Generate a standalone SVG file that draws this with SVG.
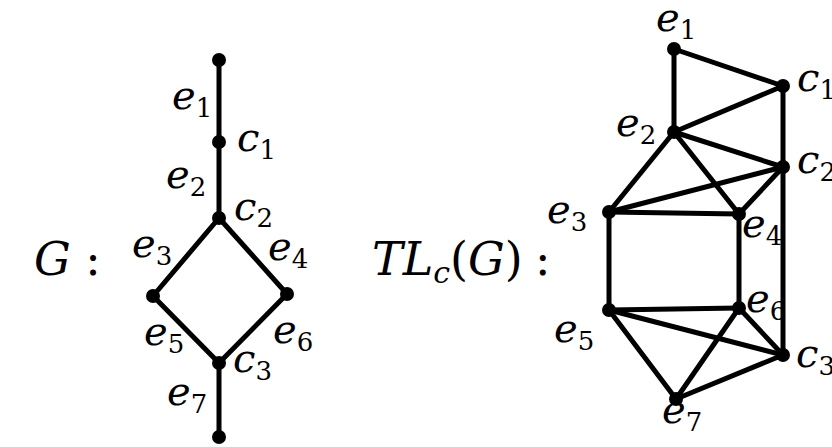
<svg xmlns="http://www.w3.org/2000/svg" width="832" height="447" viewBox="0 0 832 447">
<style>
.ed line{stroke:#000;stroke-width:5;stroke-linecap:round}
.v{fill:#000}
text{font-family:'DejaVu Serif','Liberation Serif',serif;fill:#000}
.m{font-style:italic;font-size:40px}
.s{font-style:normal;font-size:26px}
.big{font-size:46px}
</style>
<rect width="832" height="447" fill="#fff"/>
<g id="labels-titles">
<text x="34" y="275" class="big"><tspan font-style="italic">G</tspan> :</text>
<text x="372" y="275" class="big"><tspan font-style="italic">TL</tspan><tspan font-style="italic" font-size="30px" dy="8">c</tspan><tspan dy="-8">(</tspan><tspan font-style="italic">G</tspan>)</text>
<text x="535" y="275" class="big">:</text>
</g>
<g id="G-edges" class="ed">
<line x1="219" y1="60" x2="219" y2="218"/>
<line x1="219" y1="218" x2="153" y2="296"/>
<line x1="219" y1="218" x2="287" y2="294"/>
<line x1="153" y1="296" x2="219" y2="363"/>
<line x1="287" y1="294" x2="219" y2="363"/>
<line x1="219" y1="363" x2="219" y2="437"/>
</g>
<g id="G-nodes">
<g id="g-top"><circle class="v" cx="219" cy="60" r="7"/></g>
<g id="g-c1"><circle class="v" cx="219" cy="142" r="7"/><text x="237" y="151" class="m">c<tspan class="s" dy="8">1</tspan></text></g>
<g id="g-c2"><circle class="v" cx="219" cy="218" r="7"/><text x="234" y="220" class="m">c<tspan class="s" dy="7">2</tspan></text></g>
<g id="g-left"><circle class="v" cx="153" cy="296" r="7"/></g>
<g id="g-right"><circle class="v" cx="287" cy="294" r="7"/></g>
<g id="g-c3"><circle class="v" cx="219" cy="363" r="7"/><text x="233" y="372" class="m">c<tspan class="s" dy="8">3</tspan></text></g>
<g id="g-bottom"><circle class="v" cx="219" cy="437" r="7"/></g>
<g id="g-e1"><text x="172" y="109" class="m">e<tspan class="s" dy="8">1</tspan></text></g>
<g id="g-e2"><text x="166" y="188" class="m">e<tspan class="s" dy="8">2</tspan></text></g>
<g id="g-e3"><text x="132" y="257" class="m">e<tspan class="s" dy="8">3</tspan></text></g>
<g id="g-e4"><text x="268" y="260" class="m">e<tspan class="s" dy="8">4</tspan></text></g>
<g id="g-e5"><text x="144" y="345" class="m">e<tspan class="s" dy="8">5</tspan></text></g>
<g id="g-e6"><text x="273" y="343" class="m">e<tspan class="s" dy="8">6</tspan></text></g>
<g id="g-e7"><text x="167" y="405" class="m">e<tspan class="s" dy="8">7</tspan></text></g>
</g>
<g id="TL-edges" class="ed">
<line x1="674" y1="49" x2="674" y2="132"/>
<line x1="674" y1="49" x2="783" y2="86"/>
<line x1="783" y1="86" x2="674" y2="132"/>
<line x1="783" y1="86" x2="783" y2="167"/>
<line x1="783" y1="167" x2="783" y2="355"/>
<line x1="674" y1="132" x2="783" y2="167"/>
<line x1="674" y1="132" x2="609" y2="212"/>
<line x1="674" y1="132" x2="739" y2="214"/>
<line x1="783" y1="167" x2="609" y2="212"/>
<line x1="783" y1="167" x2="739" y2="214"/>
<line x1="609" y1="212" x2="739" y2="214"/>
<line x1="609" y1="212" x2="609" y2="310"/>
<line x1="739" y1="214" x2="739" y2="308"/>
<line x1="609" y1="310" x2="739" y2="308"/>
<line x1="609" y1="310" x2="783" y2="355"/>
<line x1="609" y1="310" x2="676" y2="399"/>
<line x1="739" y1="308" x2="783" y2="355"/>
<line x1="739" y1="308" x2="676" y2="399"/>
<line x1="676" y1="399" x2="783" y2="355"/>
</g>
<g id="TL-nodes">
<g id="t-e1"><circle class="v" cx="674" cy="49" r="7"/><text x="656" y="31" class="m">e<tspan class="s" dy="8">1</tspan></text></g>
<g id="t-c1"><circle class="v" cx="783" cy="86" r="7"/><text x="797" y="91" class="m">c<tspan class="s" dy="8">1</tspan></text></g>
<g id="t-e2"><circle class="v" cx="674" cy="132" r="7"/><text x="616" y="136" class="m">e<tspan class="s" dy="8">2</tspan></text></g>
<g id="t-c2"><circle class="v" cx="783" cy="167" r="7"/><text x="797" y="173" class="m">c<tspan class="s" dy="8">2</tspan></text></g>
<g id="t-e3"><circle class="v" cx="609" cy="212" r="7"/><text x="547" y="223" class="m">e<tspan class="s" dy="8">3</tspan></text></g>
<g id="t-e4"><circle class="v" cx="739" cy="214" r="7"/><text x="742" y="237" class="m">e<tspan class="s" dy="8">4</tspan></text></g>
<g id="t-e5"><circle class="v" cx="609" cy="310" r="7"/><text x="554" y="342" class="m">e<tspan class="s" dy="8">5</tspan></text></g>
<g id="t-e6"><circle class="v" cx="739" cy="308" r="7"/><text x="746" y="312" class="m">e<tspan class="s" dy="8">6</tspan></text></g>
<g id="t-c3"><circle class="v" cx="783" cy="355" r="7"/><text x="796" y="367" class="m">c<tspan class="s" dy="8">3</tspan></text></g>
<g id="t-e7"><circle class="v" cx="676" cy="399" r="7"/><text x="662" y="423" class="m">e<tspan class="s" dy="8">7</tspan></text></g>
</g>
</svg>
